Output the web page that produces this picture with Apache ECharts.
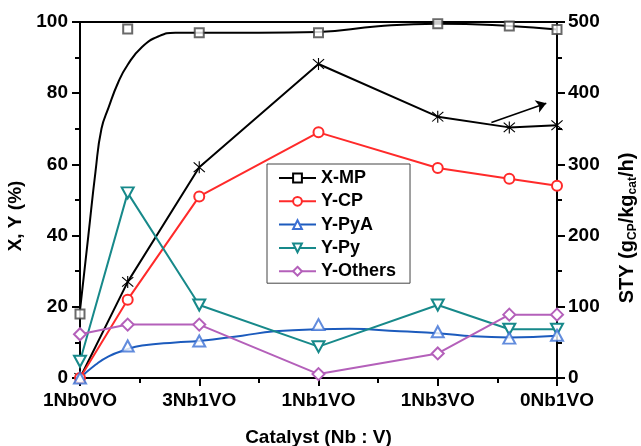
<!DOCTYPE html>
<html>
<head>
<meta charset="utf-8">
<script src="https://cdn.jsdelivr.net/npm/echarts@6/dist/echarts.min.js"></script>
<style>
  html, body { margin: 0; padding: 0; background: #fff; }
  #chart { width: 641px; height: 446px; }
</style>
</head>
<body>
<div id="chart"></div>
<script>
// Catalyst names placed at integer positions on the x axis
const categories = ['1Nb0VO', '3Nb1VO', '1Nb1VO', '1Nb3VO', '0Nb1VO'];
// Positions of the measured samples along the catalyst axis
const samplePos = [0, 0.4, 1, 2, 3, 3.6, 4];

// Conversion / yields (%), left axis
const xMP     = [18, 98, 97, 97, 99.5, 98.9, 97.9];
const yCP     = [0, 22, 51, 69, 59, 56, 54];
const yPyA    = [0, 9, 10.4, 15, 13, 11.2, 12];
const yPy     = [4.7, 52, 20.5, 8.8, 20.5, 13.7, 13.7];
const yOthers = [12.3, 15, 15, 1.1, 6.9, 17.8, 17.8];

// Space-time yield of CP (g_CP / kg_cat / h), right axis
const sty = [0, 135, 296, 441, 367, 352, 355];

// Hand-drawn trend curves
const xMPTrendPos = [0, 0.07, 0.13, 0.18, 0.24, 0.32, 0.4, 0.52, 0.66, 0.8, 1, 1.5, 2, 2.5, 3, 3.6, 4];
const xMPTrend    = [19, 40, 58, 70, 76, 83, 88, 93, 96, 97, 97, 97, 97.2, 98.8, 99.5, 98.9, 97.9];
const yPyATrendPos = [0, 0.13, 0.24, 0.38, 0.52, 0.8, 1, 1.36, 1.63, 2, 2.26, 2.68, 3, 3.3, 3.6, 4];
const yPyATrend    = [0, 3.7, 6.1, 7.9, 9.1, 10, 10.4, 11.9, 13.1, 13.7, 13.8, 13.1, 12.6, 11.7, 11.4, 11.9];

// Arrow pointing STY curve to the right axis: [x, STY]
const arrowFrom = [3.45, 359];
const arrowTo   = [3.91, 386];

const pairs = (xs, ys) => xs.map((x, i) => [x, ys[i]]);

// Asterisk marker built from three thin bars
const asterisk = 'path://M9.2 0L10.8 0L10.8 20L9.2 20Z' +
  'M2.57 1.43L18.57 17.43L17.43 18.57L1.43 2.57Z' +
  'M17.43 1.43L18.57 2.57L2.57 18.57L1.43 17.43Z';

const FONT = 'Liberation Sans, Arial, Helvetica, sans-serif';
const C = {
  black: '#000000',
  red: '#ff2a2a',
  blue: '#1c5bbd',
  blueMark: '#3b6fd4',
  teal: '#17898a',
  purple: '#b460ba'
};

const chart = echarts.init(document.getElementById('chart'), null, { renderer: 'canvas' });

const labelFont = { fontFamily: FONT, fontWeight: 'bold', fontSize: 19, color: '#000' };
const axisLine = { show: true, onZero: false, lineStyle: { color: '#000', width: 2 } };
const majorTick = { show: true, inside: false, length: 8, lineStyle: { color: '#000', width: 2 } };
const minorTick = { show: true, splitNumber: 2, length: 5, lineStyle: { color: '#000', width: 2 } };

chart.setOption({
  animation: false,
  backgroundColor: '#fff',
  grid: { left: 80, right: 84, top: 22, bottom: 68, containLabel: false, outerBoundsMode: 'none' },
  legend: {
    data: ['X-MP', 'Y-CP', 'Y-PyA', 'Y-Py', 'Y-Others'],
    orient: 'vertical',
    left: 267, top: 164,
    padding: [5, 14, 3, 11],
    itemWidth: 37, itemHeight: 11, itemGap: 5.3,
    borderColor: '#444', borderWidth: 1,
    backgroundColor: '#fff',
    textStyle: { fontFamily: FONT, fontWeight: 'bold', fontSize: 18, lineHeight: 18, color: '#000' }
  },
  xAxis: [
    {
      type: 'value',
      min: 0, max: 4, interval: 1,
      position: 'bottom',
      name: 'Catalyst (Nb : V)',
      nameLocation: 'middle',
      nameGap: 50,
      nameTextStyle: labelFont,
      axisLine: axisLine,
      axisTick: majorTick,
      minorTick: minorTick,
      splitLine: { show: false },
      minorSplitLine: { show: false },
      axisLabel: Object.assign({ show: true, margin: 13, formatter: v => categories[Math.round(v)] || '' }, labelFont)
    },
    {
      // plain frame line along the top
      type: 'value',
      min: 0, max: 4, interval: 1,
      position: 'top',
      axisLine: axisLine,
      axisTick: { show: false },
      axisLabel: { show: false },
      splitLine: { show: false }
    }
  ],
  yAxis: [
    {
      type: 'value',
      min: 0, max: 100, interval: 20,
      position: 'left',
      name: 'X, Y (%)',
      nameLocation: 'middle',
      nameRotate: 90,
      nameGap: 48,
      nameTextStyle: Object.assign({ padding: [0, 32, 0, 0] }, labelFont),
      axisLine: axisLine,
      axisTick: majorTick,
      minorTick: minorTick,
      splitLine: { show: false },
      minorSplitLine: { show: false },
      axisLabel: Object.assign({ show: true, margin: 12 }, labelFont)
    },
    {
      type: 'value',
      min: 0, max: 500, interval: 100,
      position: 'right',
      name: 'STY (g{sub|CP}/kg{sub|cat}/h)',
      nameLocation: 'middle',
      nameRotate: 90,
      nameGap: 59,
      nameTextStyle: {
        fontFamily: FONT, fontWeight: 'bold', fontSize: 20, color: '#000',
        padding: [0, 56, 0, 0],
        rich: {
          sub: { fontFamily: FONT, fontWeight: 'bold', fontSize: 12, color: '#000', verticalAlign: 'bottom', padding: [11, 0, 0, 0] }
        }
      },
      axisLine: axisLine,
      axisTick: majorTick,
      minorTick: minorTick,
      splitLine: { show: false },
      minorSplitLine: { show: false },
      axisLabel: Object.assign({ show: true, margin: 11 }, labelFont)
    }
  ],
  series: [
    {
      name: 'X-MP', type: 'line', smooth: 0.5,
      data: pairs(xMPTrendPos, xMPTrend),
      symbol: 'emptyRect', showSymbol: false,
      lineStyle: { color: C.black, width: 2 },
      itemStyle: { color: C.black, borderWidth: 1.2 },
      z: 3
    },
    {
      name: 'X-MP', type: 'scatter',
      data: pairs(samplePos, xMP),
      symbol: 'emptyRect', symbolSize: 9,
      itemStyle: { color: '#444', borderWidth: 1.3 },
      z: 10
    },
    {
      name: 'STY', type: 'line', yAxisIndex: 1,
      data: pairs(samplePos, sty),
      symbol: asterisk, symbolSize: 12,
      lineStyle: { color: C.black, width: 2 },
      itemStyle: { color: C.black },
      z: 4,
      markLine: {
        silent: true, animation: false,
        symbol: ['none', 'arrow'], symbolSize: 10,
        label: { show: false },
        lineStyle: { color: '#000', width: 1.6, type: 'solid' },
        data: [[{ coord: arrowFrom }, { coord: arrowTo }]]
      }
    },
    {
      name: 'Y-CP', type: 'line',
      data: pairs(samplePos, yCP),
      symbol: 'emptyCircle', symbolSize: 10,
      lineStyle: { color: C.red, width: 2 },
      itemStyle: { color: C.red, borderWidth: 1.2 },
      z: 5
    },
    {
      name: 'Y-PyA', type: 'line', smooth: 0.5,
      data: pairs(yPyATrendPos, yPyATrend),
      symbol: 'emptyTriangle', showSymbol: false,
      lineStyle: { color: C.blue, width: 2 },
      itemStyle: { color: C.blueMark, borderWidth: 1.2 },
      z: 5
    },
    {
      name: 'Y-PyA', type: 'scatter',
      data: pairs(samplePos, yPyA),
      symbol: 'emptyTriangle', symbolSize: [12, 11],
      itemStyle: { color: C.blueMark, borderWidth: 1.3 },
      z: 10
    },
    {
      name: 'Y-Py', type: 'line',
      data: pairs(samplePos, yPy),
      symbol: 'emptyTriangle', symbolRotate: 180, symbolSize: [12, 11],
      lineStyle: { color: C.teal, width: 2 },
      itemStyle: { color: C.teal, borderWidth: 1.3 },
      z: 6
    },
    {
      name: 'Y-Others', type: 'line',
      data: pairs(samplePos, yOthers),
      symbol: 'emptyDiamond', symbolSize: 12,
      lineStyle: { color: C.purple, width: 2 },
      itemStyle: { color: C.purple, borderWidth: 1.3 },
      z: 6
    }
  ]
});
</script>
</body>
</html>
